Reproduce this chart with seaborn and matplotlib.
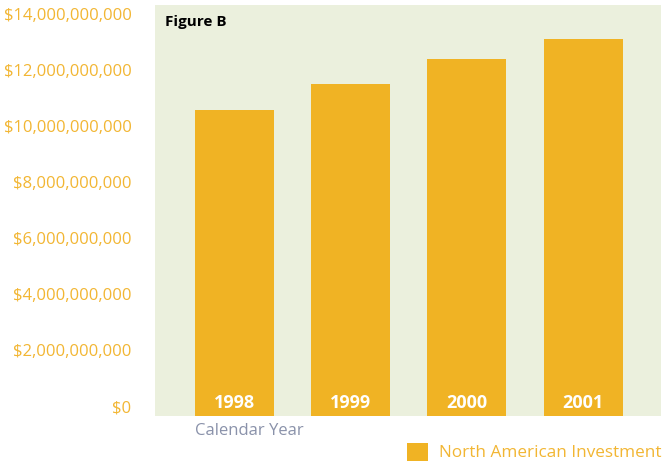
import matplotlib
matplotlib.use("Agg")
import matplotlib.pyplot as plt
import matplotlib.transforms as mtransforms
import seaborn as sns
import pandas as pd

years = ["1998", "1999", "2000", "2001"]
investment = [10.93e9, 11.86e9, 12.75e9, 13.46e9]
tick_values = [0, 2e9, 4e9, 6e9, 8e9, 10e9, 12e9, 14e9]
tick_labels = ["$0", "$2,000,000,000", "$4,000,000,000", "$6,000,000,000",
               "$8,000,000,000", "$10,000,000,000", "$12,000,000,000",
               "$14,000,000,000"]
series_name = "North American Investment"

BAR = "#f0b324"
PANEL = "#ebf0dd"
TICK = "#f2b633"
GREY = "#8a92aa"

sns.set_theme(style="white")
plt.rcParams["font.family"] = ["Open Sans", "DejaVu Sans"]

df = pd.DataFrame({"year": years, "value": investment})

fig = plt.figure(figsize=(6.64, 4.66), dpi=100)
ax = fig.add_axes([155 / 664, 50 / 466, 506 / 664, 411 / 466])
ax.set_facecolor(PANEL)

sns.barplot(data=df, x="year", y="value", color=BAR, saturation=1,
            width=0.68, ax=ax, label=series_name, linewidth=0)

ax.set_xlim(-0.68, 3.67)
ax.set_ylim(0, 14.68e9)
for s in ax.spines.values():
    s.set_visible(False)

ax.set_yticks(tick_values)
ax.set_yticklabels(tick_labels, fontsize=12, color=TICK)
ax.tick_params(axis="y", length=0, pad=17)
# lift the value labels so they sit just above their gridline level
shift = mtransforms.ScaledTranslation(0, 10 / 100, fig.dpi_scale_trans)
for lbl in ax.get_yticklabels():
    lbl.set_transform(lbl.get_transform() + shift)

ax.set_xticks([])
ax.set_xlabel("")
ax.set_ylabel("")

# year labels at the foot of each bar
foot = mtransforms.blended_transform_factory(ax.transData, ax.transAxes)
for i, y in enumerate(years):
    ax.text(i, 13 / 411, y, transform=foot, ha="center", va="center",
            color="white", fontsize=13, fontweight="bold")

ax.text(10 / 506, 1 - 17 / 411, "Figure B", transform=ax.transAxes,
        ha="left", va="center", fontsize=11, fontweight="bold", color="black")

fig.text(195 / 664, 1 - 431 / 466, "Calendar Year", ha="left", va="center",
         fontsize=12, color=GREY)

leg = ax.legend(loc="center left", bbox_to_anchor=(407 / 664, 1 - 452 / 466),
                bbox_transform=fig.transFigure, frameon=False, fontsize=12.3,
                handlelength=1.25, handleheight=1.25, handletextpad=0.6,
                borderpad=0, borderaxespad=0)
for txt in leg.get_texts():
    txt.set_color(TICK)

fig.savefig("out.png", dpi=100)
